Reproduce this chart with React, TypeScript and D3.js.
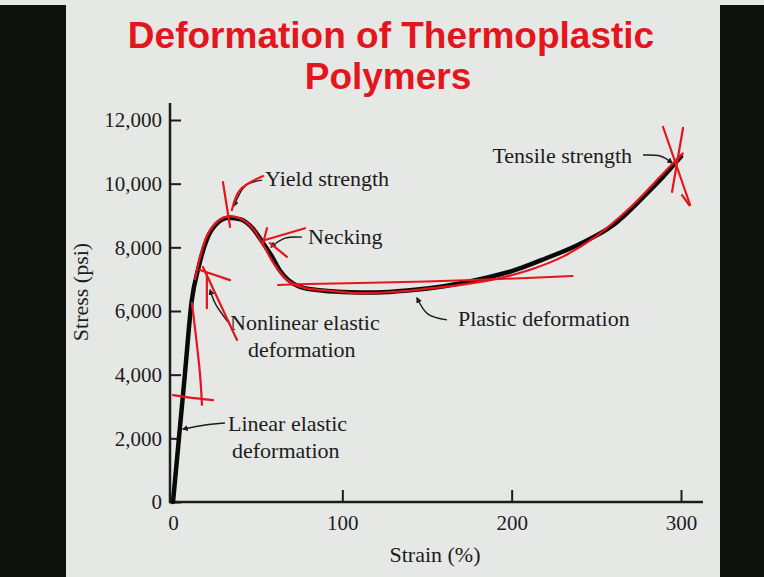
import React, { useEffect, useRef } from 'react'
import * as d3 from 'd3'

// stress-strain curve
const strain = [0, 3.5, 7, 11, 15, 20, 26, 33, 40, 47, 53, 58, 63, 68, 75, 85, 100, 120, 140, 160, 180, 200, 220, 240, 260, 280, 290, 300]
const stress = [0, 2000, 4000, 6300, 7350, 8250, 8750, 8930, 8880, 8600, 8150, 7750, 7280, 6980, 6760, 6660, 6600, 6580, 6650, 6780, 6980, 7250, 7650, 8100, 8700, 9700, 10250, 10850]

const xTicks = [100, 200, 300]
const yTicks = [0, 2000, 4000, 6000, 8000, 10000, 12000]

// red pen strokes drawn over the slide, in [strain, stress]
const redTrace = [[13, 7000], [16, 7700], [20, 8350], [26, 8800], [33, 8980], [40, 8900], [47, 8600], [53, 8100], [60, 7450], [68, 6950], [78, 6720], [90, 6650], [110, 6560], [130, 6600], [150, 6700], [170, 6820], [190, 7000], [210, 7280], [230, 7700], [250, 8350], [270, 9250], [290, 10350], [301, 10950]]
const redPlateau = [[62, 6820], [80, 6850], [110, 6880], [150, 6930], [190, 7000], [236, 7100]]
const redMarks = [
  [[11.2, 6250], [15.9, 4050], [17.1, 3050]],
  [[0, 3360], [10, 3280], [23.6, 3200]],
  [[15.9, 7290], [33.7, 6970]],
  [[17.7, 7380], [37.8, 5090]],
  [[20, 7190], [20, 6090]],
  [[29.5, 10050], [33.7, 8640]],
  [[34.8, 9170], [39.6, 9800], [53.2, 10240]],
  [[55.5, 8600], [53.2, 8130]],
  [[54.3, 8230], [78, 8600]],
  [[57.3, 8130], [67.3, 7700]],
  [[289.4, 11780], [305.4, 9330]],
  [[301.2, 11750], [294.7, 9740]],
  [[300.6, 9640], [304.8, 9330]]
]

// black leader lines of the labels
const leaders = [
  { lines: ['Yield strength'], path: [[52.6, 10110], [42.5, 9920], [36, 9300]], dx: 3, dy: 6, anchor: 'start' },
  { lines: ['Necking'], path: [[76.2, 8320], [66.2, 8290], [57.9, 8010]], dx: 6, dy: 7, anchor: 'start' },
  { lines: ['Nonlinear elastic', 'deformation'], path: [[32.5, 5650], [25.4, 6190], [21.9, 6660]], dx: 2, dy: 8, anchor: 'start', indent: 18 },
  { lines: ['Linear elastic', 'deformation'], path: [[30.7, 2480], [18.9, 2420], [5.9, 2290]], dx: 3, dy: 8, anchor: 'start', indent: 4 },
  { lines: ['Tensile strength'], path: [[277.6, 10900], [287.7, 10870], [294.7, 10650]], dx: -11, dy: 8, anchor: 'end' },
  { lines: ['Plastic deformation'], path: [[161.8, 5720], [150.6, 5900], [144.1, 6410]], dx: 11, dy: 6, anchor: 'start' }
]

const App = () => {
  const ref = useRef(null)

  useEffect(() => {
    const svg = d3.select(ref.current)
    svg.selectAll('*').remove()

    const x = d3.scaleLinear().domain([0, 300]).range([173, 681])
    const y = d3.scaleLinear().domain([0, 12000]).range([502, 120])
    const serif = '"Liberation Serif", "Times New Roman", serif'
    const ink = '#1c1c1c'
    const red = '#e8141c'

    // slide background
    svg.append('rect').attr('width', 764).attr('height', 577).attr('fill', '#e6e8e6')
    svg.append('rect').attr('x', 0).attr('y', 5).attr('width', 66).attr('height', 572).attr('fill', '#0d110e')
    svg.append('rect').attr('x', 720).attr('y', 5).attr('width', 44).attr('height', 572).attr('fill', '#0d110e')

    svg.append('defs').append('marker')
        .attr('id', 'arr')
        .attr('viewBox', '0 0 10 10')
        .attr('refX', 8).attr('refY', 5)
        .attr('markerWidth', 6).attr('markerHeight', 6)
        .attr('markerUnits', 'userSpaceOnUse')
        .attr('orient', 'auto')
      .append('path')
        .attr('d', 'M0,0 L10,5 L0,10 Z')
        .attr('fill', ink)

    const title = svg.append('text')
        .attr('text-anchor', 'middle')
        .attr('fill', '#e3161d')
        .style('font-family', '"Liberation Sans", Arial, sans-serif')
        .style('font-weight', 'bold')
        .style('font-size', '37px')
    title.append('tspan').attr('x', 391).attr('y', 48).text('Deformation of Thermoplastic')
    title.append('tspan').attr('x', 388).attr('y', 89).text('Polymers')

    // axes
    const yAxis = d3.axisLeft(y)
        .tickValues(yTicks)
        .tickFormat(d3.format(','))
        .tickSizeInner(-11)
        .tickSizeOuter(0)
        .tickPadding(8)

    const gy = svg.append('g').attr('transform', 'translate(170,0)').call(yAxis)
    gy.select('.domain').remove()
    gy.selectAll('line').attr('stroke', ink).attr('stroke-width', 2)
    gy.selectAll('text').attr('fill', ink).style('font-family', serif).style('font-size', '21px')

    const xAxis = d3.axisBottom(x)
        .tickValues([0, ...xTicks])
        .tickSizeInner(-12)
        .tickSizeOuter(0)
        .tickPadding(13)

    const gx = svg.append('g').attr('transform', 'translate(0,502)').call(xAxis)
    gx.select('.domain').remove()
    gx.selectAll('line').attr('stroke', ink).attr('stroke-width', 2).attr('opacity', d => d === 0 ? 0 : 1)
    gx.selectAll('text').attr('fill', ink).style('font-family', serif).style('font-size', '21px')

    svg.append('line').attr('x1', 170).attr('x2', 170).attr('y1', 103).attr('y2', 503)
        .attr('stroke', ink).attr('stroke-width', 2.5)
    svg.append('line').attr('x1', 169).attr('x2', 703).attr('y1', 502).attr('y2', 502)
        .attr('stroke', ink).attr('stroke-width', 2.5)

    svg.append('text')
        .attr('transform', 'translate(88,292) rotate(-90)')
        .attr('text-anchor', 'middle')
        .attr('fill', ink)
        .style('font-family', serif)
        .style('font-size', '22px')
        .text('Stress (psi)')

    svg.append('text')
        .attr('x', 435).attr('y', 562)
        .attr('text-anchor', 'middle')
        .attr('fill', ink)
        .style('font-family', serif)
        .style('font-size', '22px')
        .text('Strain (%)')

    // the curve
    const curve = d3.line()
        .x(d => x(d[0]))
        .y(d => y(d[1]))
        .curve(d3.curveMonotoneX)

    svg.append('path')
        .datum(strain.map((s, i) => [s, stress[i]]))
        .attr('d', curve)
        .attr('fill', 'none')
        .attr('stroke', '#0a0a0a')
        .attr('stroke-width', 4.5)
        .attr('stroke-linecap', 'round')

    // leaders + labels
    const smooth = d3.line()
        .x(d => x(d[0]))
        .y(d => y(d[1]))
        .curve(d3.curveNatural)

    leaders.forEach(a => {
      svg.append('path')
          .datum(a.path)
          .attr('d', smooth)
          .attr('fill', 'none')
          .attr('stroke', ink)
          .attr('stroke-width', 1.4)
          .attr('marker-end', 'url(#arr)')

      const x0 = x(a.path[0][0]) + a.dx
      const y0 = y(a.path[0][1]) + a.dy
      const t = svg.append('text')
          .attr('text-anchor', a.anchor)
          .attr('fill', ink)
          .style('font-family', serif)
          .style('font-size', '22px')
      a.lines.forEach((l, i) => {
        t.append('tspan')
            .attr('x', x0 + (i > 0 ? a.indent : 0))
            .attr('y', y0 + i * 27)
            .text(l)
      })
    })

    // red pen
    const pen = d3.line()
        .x(d => x(d[0]))
        .y(d => y(d[1]))
        .curve(d3.curveCatmullRom)

    svg.append('path').datum(redTrace).attr('d', pen)
        .attr('fill', 'none').attr('stroke', red).attr('stroke-width', 2.2).attr('stroke-linecap', 'round')
    svg.append('path').datum(redPlateau).attr('d', pen)
        .attr('fill', 'none').attr('stroke', red).attr('stroke-width', 2).attr('stroke-linecap', 'round')

    svg.selectAll('path.mark')
      .data(redMarks)
      .enter()
      .append('path')
        .classed('mark', true)
        .attr('d', pen)
        .attr('fill', 'none')
        .attr('stroke', red)
        .attr('stroke-width', 2.2)
        .attr('stroke-linecap', 'round')
  }, [])

  return (
    <svg
      ref={ref}
      width="764"
      height="577"
      style={{ position: 'absolute', left: 0, top: 0, display: 'block' }}
    />
  )
}

export default App
